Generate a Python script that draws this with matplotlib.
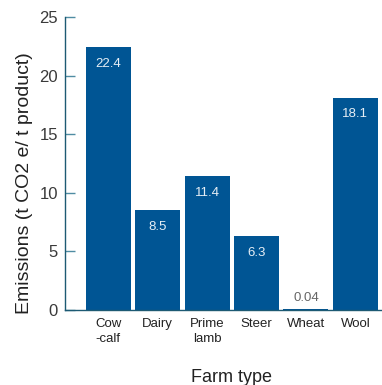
import matplotlib
matplotlib.use("Agg")
import matplotlib.pyplot as plt

# Emissoes por tipo de fazenda (t CO2 e / t produto)
farm_types = ["Cow\n-calf", "Dairy", "Prime\nlamb", "Steer", "Wheat", "Wool"]
emissions = [22.4, 8.5, 11.4, 6.3, 0.04, 18.1]
value_labels = ["22.4", "8.5", "11.4", "6.3", "0.04", "18.1"]
y_ticks = [0, 5, 10, 15, 20, 25]

BAR = "#005594"
AXIS = "#1d5a73"
TICK = "#4f8ca3"

plt.rcParams["font.family"] = ["Liberation Sans", "DejaVu Sans"]

fig = plt.figure(figsize=(3.82, 3.85), dpi=100)
ax = fig.add_axes([0.170, 0.195, 0.830, 0.761])

x = list(range(len(farm_types)))
ax.bar(x, emissions, width=0.91, color=BAR, zorder=2)

for xi, v, lab in zip(x, emissions, value_labels):
    if v > 2:
        ax.text(xi, v - 0.9, lab, ha="center", va="top", color="#e6eef5",
                fontsize=9.5)
    else:
        ax.text(xi, v + 0.5, lab, ha="center", va="bottom", color="#666666",
                fontsize=9.5)

ax.set_xlim(-0.88, 5.54)
ax.set_ylim(0, 25)
ax.set_yticks(y_ticks)
ax.set_yticklabels([str(t) for t in y_ticks], fontsize=12, color="#3a3a3a")
ax.set_xticks(x)
ax.set_xticklabels(farm_types, fontsize=9.5, color="#222222", linespacing=1.25,
                   va="top")

for side in ("top", "right"):
    ax.spines[side].set_visible(False)
ax.spines["left"].set_color(AXIS)
ax.spines["bottom"].set_color(AXIS)
ax.spines["left"].set_linewidth(1.0)
ax.spines["bottom"].set_linewidth(1.0)

ax.tick_params(axis="y", direction="in", length=7, width=1, color=TICK, pad=5)
ax.tick_params(axis="x", length=0, pad=6)

ax.set_ylabel("Emissions (t CO2 e/ t product)", fontsize=14, color="#222222",
              va="center")
ax.yaxis.set_label_coords(-0.126, 0.433)
ax.set_xlabel("Farm type", fontsize=13, color="#222222", va="center")
ax.xaxis.set_label_coords(0.524, -0.229)

fig.savefig("out.png", dpi=100)
